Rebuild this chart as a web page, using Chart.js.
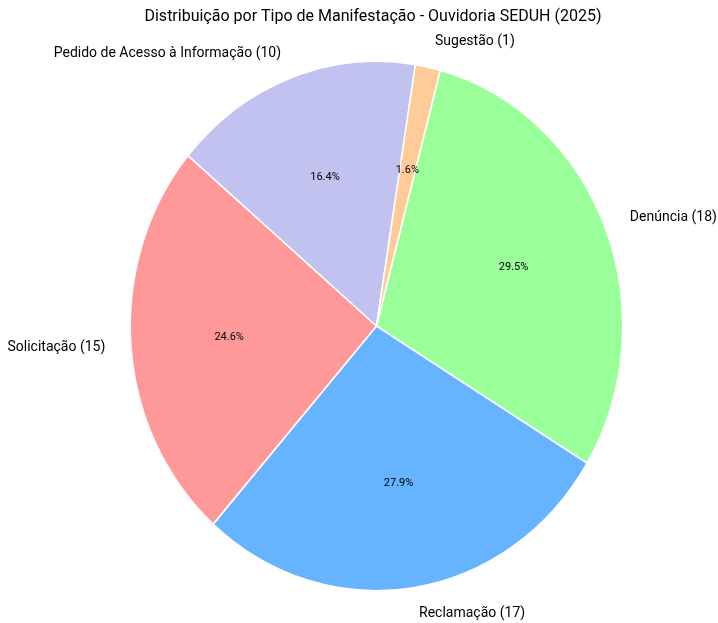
<!DOCTYPE html>
<html>
<head>
<meta charset="utf-8">
<script src="https://cdn.jsdelivr.net/npm/chart.js"></script>
<style>
  body { margin: 0; background: #fff; }
</style>
</head>
<body>
<canvas id="pie-chart" width="718" height="623"></canvas>
<script>
const tipos = ["Denúncia", "Reclamação", "Solicitação", "Pedido de Acesso à Informação", "Sugestão"];
const quantidades = [18, 17, 15, 10, 1];
const cores = ["#99ff99", "#66b3ff", "#ff9999", "#c2c2f0", "#ffcc99"];
const titulo = "Distribuição por Tipo de Manifestação - Ouvidoria SEDUH (2025)";

const total = quantidades.reduce((a, b) => a + b, 0);
// the reference pie is a bit taller than wide
const stretchY = 265 / 246.5;

// stretch the wedges vertically around the pie centre
const stretchPlugin = {
    id: 'stretch',
    beforeDatasetsDraw(chart) {
        const arc = chart.getDatasetMeta(0).data[0];
        const ctx = chart.ctx;
        ctx.save();
        ctx.translate(arc.x, arc.y);
        ctx.scale(1, stretchY);
        ctx.translate(-arc.x, -arc.y);
    },
    afterDatasetsDraw(chart) {
        chart.ctx.restore();
    }
};

// outer labels, percentages and title
const labelPlugin = {
    id: 'pieLabels',
    afterDraw(chart) {
        const ctx = chart.ctx;
        const meta = chart.getDatasetMeta(0);
        ctx.save();
        ctx.fillStyle = "#000";
        ctx.textBaseline = "middle";
        meta.data.forEach(function(arc, i) {
            const mid = (arc.startAngle + arc.endAngle) / 2;
            const r = arc.outerRadius;
            const dx = Math.cos(mid), dy = Math.sin(mid) * stretchY;

            ctx.font = "14px Roboto";
            ctx.textAlign = dx > 0 ? "left" : "right";
            ctx.fillText(tipos[i] + " (" + quantidades[i] + ")", arc.x + dx * r * 1.1 + (dx > 0 ? 2 : -1), arc.y + dy * r * 1.1);

            ctx.font = "11px Roboto";
            ctx.textAlign = "center";
            const pct = (quantidades[i] / total * 100).toFixed(1) + "%";
            ctx.fillText(pct, arc.x + dx * r * 0.6, arc.y + dy * r * 0.6);
        });
        ctx.font = "16px Roboto";
        ctx.textAlign = "center";
        ctx.fillText(titulo, 373, 17);
        ctx.restore();
    }
};

new Chart("pie-chart", {
    type: 'pie',
    data: {
        labels: tipos,
        datasets: [{
            data: quantidades,
            backgroundColor: cores,
            borderColor: "#ffffff",
            borderWidth: 1.5,
            hoverOffset: 0
        }]
    },
    options: {
        responsive: false,
        animation: false,
        rotation: 15,
        layout: {
            padding: { left: 129, right: 94, top: 79, bottom: 50 }
        },
        plugins: {
            legend: { display: false },
            tooltip: { enabled: false }
        }
    },
    plugins: [stretchPlugin, labelPlugin]
});
</script>
</body>
</html>
